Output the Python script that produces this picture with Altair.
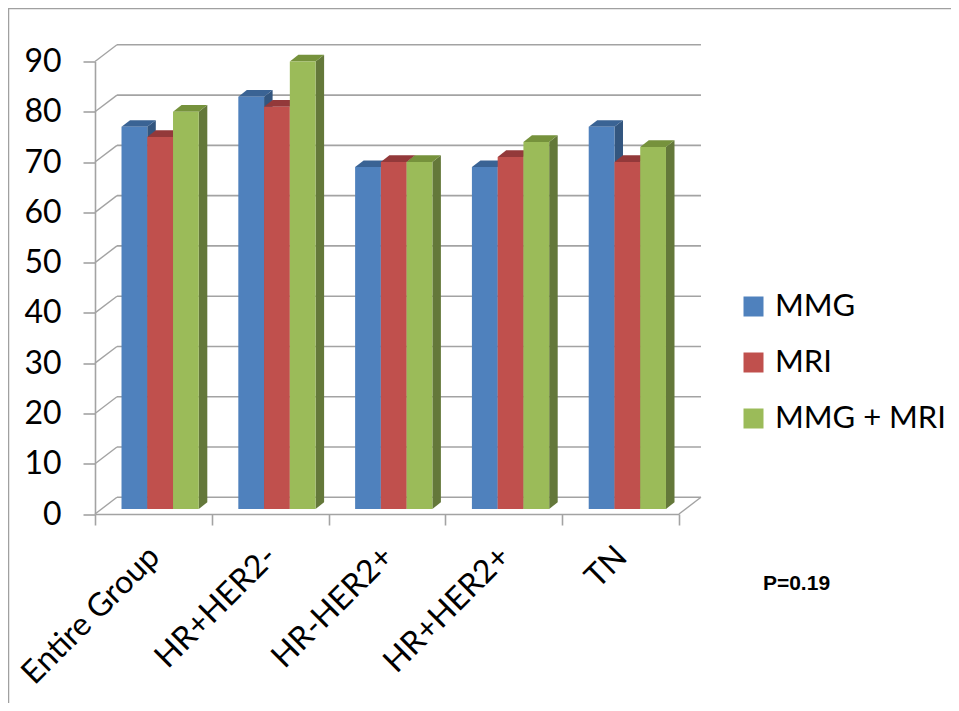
import altair as alt
import pandas as pd

categories = ["Entire Group", "HR+HER2-", "HR-HER2+", "HR+HER2+", "TN"]
series = ["MMG", "MRI", "MMG + MRI"]
mmg = [76, 82, 68, 68, 76]
mri = [74, 80, 69, 70, 69]
both = [79, 89, 69, 73, 72]
front_colors = ["#4F81BD", "#C0504D", "#9BBB59"]
top_colors = ["#3A6394", "#93393A", "#76923C"]
side_colors = ["#33567F", "#7E3230", "#64783A"]
y_ticks = [0, 10, 20, 30, 40, 50, 60, 70, 80, 90]
x_ticks = [0, 1, 2, 3, 4, 5]

# 3-D projection constants, in axis units
WALL_DX, WALL_DY = 0.188, 3.32
BAR_DX, BAR_DY = 0.073, 1.33
BAR_X0, BAR_W, BAR_LIFT = 0.227, 0.2205, 1.0

GRID = "#A3A3A3"
FONT = "Lato"
xs = alt.Scale(domain=[0, 5], nice=False, zero=False)
ys = alt.Scale(domain=[0, 90], nice=False, zero=False)
x_axis = alt.Axis(values=x_ticks, labels=False, grid=False, tickSize=11, tickWidth=1.6, tickColor=GRID,
                  domainColor=GRID, domainWidth=1.6, title=None)
y_axis = alt.Axis(values=y_ticks, grid=False, tickSize=12, tickWidth=1.6, tickColor=GRID, domainColor=GRID,
                  domainWidth=1.6, labelFont=FONT, labelFontSize=32, labelColor="#000000", labelPadding=22,
                  labelFontWeight="normal", title=None)


def X(field="x"):
    return alt.X(f"{field}:Q", scale=xs, axis=x_axis)


def Y(field="y", **kw):
    return alt.Y(f"{field}:Q", scale=ys, axis=y_axis, **kw)


values = [mmg, mri, both]
fronts, sides, tops = [], [], []
for si, s in enumerate(series):
    for ci, c in enumerate(categories):
        v = values[si][ci] + BAR_LIFT
        xl = ci + BAR_X0 + si * BAR_W
        xr = xl + BAR_W
        fronts.append(dict(series=s, x=xl, x2=xr, y=BAR_LIFT, y2=v))
        for px, a, b in [(xr, v, BAR_LIFT), (xr + BAR_DX, v + BAR_DY, BAR_LIFT + BAR_DY)]:
            sides.append(dict(series=s, cat=c, x=px, y=a, y2=b))
        for px, a, b in [(xl, v, v), (xl + BAR_DX, v + BAR_DY, v),
                         (xr, v + BAR_DY, v), (xr + BAR_DX, v + BAR_DY, v + BAR_DY)]:
            tops.append(dict(series=s, cat=c, x=px, y=a, y2=b))
fronts, sides, tops = map(pd.DataFrame, (fronts, sides, tops))

grid = pd.DataFrame({"x": 0 + WALL_DX, "x2": 5 + WALL_DX, "y": [t + WALL_DY for t in y_ticks]})
diag = pd.DataFrame(
    [dict(k=t, x=0, y=t) for t in y_ticks] + [dict(k=t, x=WALL_DX, y=t + WALL_DY) for t in y_ticks]
    + [dict(k=-1, x=5, y=0), dict(k=-1, x=5 + WALL_DX, y=WALL_DY)]
)
labels = pd.DataFrame({"x": [i + 0.5 for i in range(5)], "y": 0, "t": categories})

layers = []
layers.append(alt.Chart(grid).mark_rule(color=GRID, strokeWidth=1.6).encode(x=X(), x2="x2:Q", y=Y()))
layers.append(alt.Chart(diag).mark_line(color=GRID, strokeWidth=1.4).encode(x=X(), y=Y(), detail="k:N"))

for si, s in enumerate(series):
    for frame, col in ((sides, side_colors[si]), (tops, top_colors[si])):
        layers.append(alt.Chart(frame[frame.series == s]).mark_area(color=col, interpolate="linear").encode(
            x=X(), y=Y(stack=None), y2="y2:Q", detail="cat:N"))

layers.append(alt.Chart(fronts).mark_rect().encode(
    x=X(), x2="x2:Q", y=Y(), y2="y2:Q",
    color=alt.Color("series:N", title=None,
        scale=alt.Scale(domain=series, range=front_colors),
        legend=alt.Legend(orient="none", legendX=643, legendY=229.5, symbolType="square", symbolSize=400,
            symbolStrokeWidth=0, labelFont=FONT, labelFontSize=31, labelColor="#000000", labelOffset=6,
            rowPadding=24, labelLimit=300))))

layers.append(alt.Chart(labels).mark_text(angle=315, align="right", baseline="middle", font=FONT,
        fontSize=32, color="#000000", dx=-26, dy=27.5).encode(x=X(), y=Y(), text="t:N"))

layers.append(alt.Chart(pd.DataFrame({"t": ["P=0.19"]})).mark_text(font="Liberation Sans", fontWeight="bold",
        fontSize=21, color="#000000", align="center", baseline="middle").encode(
    x=alt.value(701.5), y=alt.value(522.5), text="t:N"))

frame_color = "#A0A0A0"
layers.append(alt.Chart(pd.DataFrame({"a": [0]})).mark_rule(color=frame_color, strokeWidth=1.5).encode(
    x=alt.value(-87), x2=alt.value(856), y=alt.value(-53)))
layers.append(alt.Chart(pd.DataFrame({"a": [0]})).mark_rule(color=frame_color, strokeWidth=1.5).encode(
    x=alt.value(-86.5), y=alt.value(-54), y2=alt.value(642)))

chart = alt.layer(*layers).properties(
    width=584, height=452.5,
    autosize=alt.AutoSizeParams(type="none"),
    padding={"left": 87, "top": 53.5, "right": 272, "bottom": 189},
).configure_view(stroke=None)

chart.save("out.html", embed_options={"renderer": "svg", "actions": False})
